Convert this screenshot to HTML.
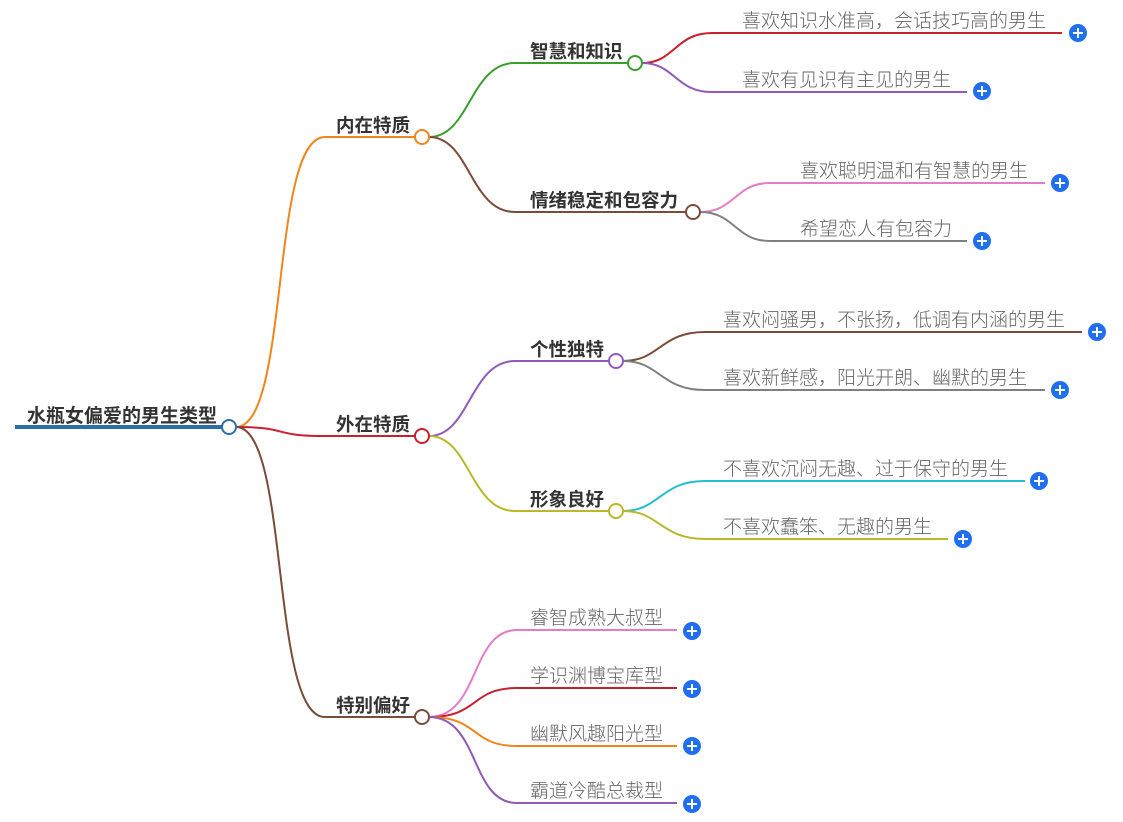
<!DOCTYPE html>
<html><head><meta charset="utf-8"><style>
html,body{margin:0;padding:0;background:#fff;}
svg{display:block;}
.r{font-family:"Liberation Sans","Noto Sans CJK SC",sans-serif;font-weight:bold;font-size:19px;fill:#333;}
.b{font-family:"Liberation Sans","Noto Sans CJK SC",sans-serif;font-weight:bold;font-size:18.5px;fill:#333;}
.l{font-family:"Liberation Sans","Noto Sans CJK SC",sans-serif;font-size:19px;font-weight:300;fill:#666;}
path{fill:none;stroke-width:2;}
</style></head><body>
<svg width="1123" height="822" viewBox="0 0 1123 822" xmlns="http://www.w3.org/2000/svg">
<defs>
<g id="plus"><circle r="9" fill="#1f6ff0"/><path d="M-5 0H5M0 -5V5" stroke="#fff" stroke-width="2"/></g>
</defs>
<line x1="15" y1="427" x2="222" y2="427" stroke="#2c6ea8" stroke-width="4"/>
<text class="r" x="27" y="422">水瓶女偏爱的男生类型</text>
<path d="M236 427 C290 427,270 137,325 137 H415" stroke="#f0851d"/>
<path d="M236 427 C290 427,270 436,325 436 H415" stroke="#c8202f"/>
<path d="M236 427 C290 427,270 717,325 717 H415" stroke="#7b4b3a"/>
<text class="b" x="336" y="132">内在特质</text>
<text class="b" x="336" y="431">外在特质</text>
<text class="b" x="336" y="712">特别偏好</text>
<path d="M429 137 C470 137,470 63,515 63 H628" stroke="#3a9d2e"/>
<path d="M429 137 C470 137,470 212,515 212 H686" stroke="#7b4b3a"/>
<path d="M429 436 C470 436,470 361,515 361 H609" stroke="#9159b8"/>
<path d="M429 436 C470 436,470 511,515 511 H609" stroke="#b8b82a"/>
<text class="b" x="530" y="58">智慧和知识</text>
<text class="b" x="530" y="207">情绪稳定和包容力</text>
<text class="b" x="530" y="356">个性独特</text>
<text class="b" x="530" y="506">形象良好</text>
<path d="M642 63 C675 63,675 33,712 33 H1062" stroke="#c8202f" stroke-width="1.5"/>
<path d="M642 63 C675 63,675 92,712 92 H967" stroke="#9159b8" stroke-width="1.5"/>
<path d="M700 212 C735 212,735 183,770 183 H1045" stroke="#e47cc7" stroke-width="1.5"/>
<path d="M700 212 C735 212,735 241,770 241 H967" stroke="#808080" stroke-width="1.5"/>
<path d="M623 361 C660 361,660 332,705 332 H1082" stroke="#7b4b3a" stroke-width="1.5"/>
<path d="M623 361 C660 361,660 390,705 390 H1045" stroke="#808080" stroke-width="1.5"/>
<path d="M623 511 C660 511,660 481,705 481 H1025" stroke="#26bcd0" stroke-width="1.5"/>
<path d="M623 511 C660 511,660 539,705 539 H948" stroke="#b8b82a" stroke-width="1.5"/>
<path d="M429 717 C480 717,470 630,517 630 H677" stroke="#e47cc7" stroke-width="1.5"/>
<path d="M429 717 C480 717,470 688,517 688 H677" stroke="#c8202f" stroke-width="1.5"/>
<path d="M429 717 C480 717,470 746,517 746 H677" stroke="#f0851d" stroke-width="1.5"/>
<path d="M429 717 C480 717,470 803,517 803 H677" stroke="#9159b8" stroke-width="1.5"/>
<text class="l" x="742" y="27">喜欢知识水准高，会话技巧高的男生</text>
<text class="l" x="742" y="86">喜欢有见识有主见的男生</text>
<text class="l" x="800" y="177">喜欢聪明温和有智慧的男生</text>
<text class="l" x="800" y="235">希望恋人有包容力</text>
<text class="l" x="723" y="326">喜欢闷骚男，不张扬，低调有内涵的男生</text>
<text class="l" x="723" y="384">喜欢新鲜感，阳光开朗、幽默的男生</text>
<text class="l" x="723" y="475">不喜欢沉闷无趣、过于保守的男生</text>
<text class="l" x="723" y="533">不喜欢蠢笨、无趣的男生</text>
<text class="l" x="530" y="624">睿智成熟大叔型</text>
<text class="l" x="530" y="682">学识渊博宝库型</text>
<text class="l" x="530" y="740">幽默风趣阳光型</text>
<text class="l" x="530" y="797">霸道冷酷总裁型</text>
<circle cx="229" cy="427" r="7" fill="#fff" stroke="#2c6ea8" stroke-width="2"/>
<circle cx="422" cy="137" r="7" fill="#fff" stroke="#f0851d" stroke-width="2"/>
<circle cx="422" cy="436" r="7" fill="#fff" stroke="#c8202f" stroke-width="2"/>
<circle cx="422" cy="717" r="7" fill="#fff" stroke="#7b4b3a" stroke-width="2"/>
<circle cx="635" cy="63" r="7" fill="#fff" stroke="#3a9d2e" stroke-width="2"/>
<circle cx="693" cy="212" r="7" fill="#fff" stroke="#7b4b3a" stroke-width="2"/>
<circle cx="616" cy="361" r="7" fill="#fff" stroke="#9159b8" stroke-width="2"/>
<circle cx="616" cy="511" r="7" fill="#fff" stroke="#b8b82a" stroke-width="2"/>
<use href="#plus" x="1078" y="33"/>
<use href="#plus" x="982" y="91"/>
<use href="#plus" x="1060" y="183"/>
<use href="#plus" x="982" y="241"/>
<use href="#plus" x="1097" y="332"/>
<use href="#plus" x="1060" y="390"/>
<use href="#plus" x="1039" y="481"/>
<use href="#plus" x="963" y="539"/>
<use href="#plus" x="692" y="631"/>
<use href="#plus" x="692" y="689"/>
<use href="#plus" x="692" y="746"/>
<use href="#plus" x="692" y="804"/>
</svg>
</body></html>
